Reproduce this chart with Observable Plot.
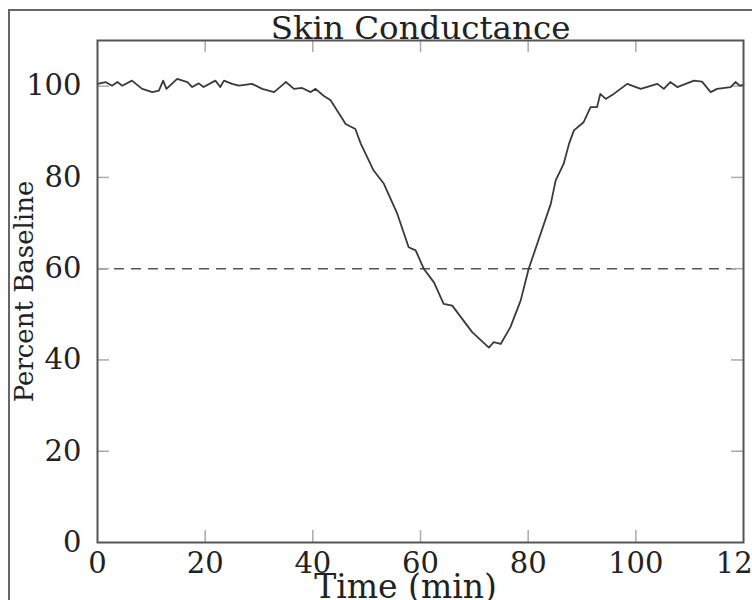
<!DOCTYPE html>
<html>
<head>
<meta charset="utf-8">
<script src="https://cdn.jsdelivr.net/npm/d3@7"></script>
<script src="https://cdn.jsdelivr.net/npm/@observablehq/plot@0.6"></script>
<style>
  html, body { margin: 0; padding: 0; background: #fff; overflow: hidden; }
  #wrap { position: relative; width: 752px; height: 600px; }
  #border { position: absolute; left: 8px; top: 9px; width: 800px; height: 700px;
            border-left: 2px solid #666; border-top: 2px solid #666; pointer-events: none; }
</style>
</head>
<body>
<div id="wrap"><div id="chart"></div><div id="border"></div></div>
<script>
const title = "Skin Conductance";
const xLabel = "Time (min)";
const yLabel = "Percent Baseline";
const xTicks = [0, 20, 40, 60, 80, 100, 120];
const yTicks = [0, 20, 40, 60, 80, 100];
const threshold = [60];

const time = [0, 1.5, 2.7, 3.7, 4.6, 6.4, 8.3, 10.2, 11.4, 12.2, 12.8, 14.8, 16.7, 17.6, 18.8, 19.7,
  21.9, 22.8, 23.5, 25, 26.3, 28.7, 30.6, 32.8, 34.6, 35.0, 36.5, 38, 39.6, 40.5, 42, 43.3,
  46.1, 47.9, 48.9, 51.3, 53.2, 55.7, 57.8, 59.1, 60.6, 62.5, 64.3, 65.9, 69.6, 72.7, 73.6,
  74.9, 76.7, 78.6, 80.1, 81.7, 84.2, 85.1, 86.6, 87.6, 88.5, 90.3, 91.6, 92.8, 93.4, 94.4,
  95.9, 98.4, 100.9, 104, 105.2, 106.4, 107.7, 110.8, 112.3, 113.9, 115.1, 117.6, 118.5, 119.3, 120];
const value = [100.5, 100.9, 100.1, 100.9, 100.1, 101.2, 99.4, 98.7, 99.0, 101.2, 99.4, 101.6, 100.9, 99.8, 100.6, 99.8,
  101.2, 99.8, 101.2, 100.5, 100.1, 100.5, 99.4, 98.7, 100.5, 100.9, 99.4, 99.6, 98.7, 99.4, 97.9, 96.9,
  91.7, 90.6, 87.4, 81.5, 78.6, 72.0, 64.7, 64.0, 60.0, 57.0, 52.3, 51.9, 46.1, 42.7, 43.9,
  43.5, 47.2, 53.0, 60.0, 65.5, 74.2, 79.3, 83.0, 87.4, 90.3, 92.1, 95.4, 95.4, 98.3, 97.2,
  98.3, 100.5, 99.4, 100.5, 99.4, 100.9, 99.8, 101.2, 101.0, 98.7, 99.4, 99.8, 100.9, 100.1, 100.3];

const data = time.map((t, i) => ({t, v: value[i]}));

const W = 752, H = 600, mL = 97, mR = 9, mT = 40, mB = 58;
const xDom = [0, 120], yDom = [0, 110];
const tickPx = 12;
const tx = tickPx * (xDom[1] - xDom[0]) / (W - mL - mR);
const ty = tickPx * (yDom[1] - yDom[0]) / (H - mT - mB);
const innerX = xTicks.filter(d => d > xDom[0] && d < xDom[1]);
const innerY = yTicks.filter(d => d > yDom[0] && d < yDom[1]);

const tickStyle = {stroke: "#aaa", strokeWidth: 1.5};

const chart = Plot.plot({
  width: W, height: H,
  marginLeft: mL, marginRight: mR, marginTop: mT, marginBottom: mB,
  style: {fontFamily: "'DejaVu Serif', serif", fontSize: "29px", color: "#222", background: "transparent", overflow: "visible"},
  x: {domain: xDom, label: null},
  y: {domain: yDom, label: null},
  marks: [
    Plot.ruleY(threshold, {stroke: "#555", strokeWidth: 1.6, strokeDasharray: "10,7"}),
    Plot.ruleX(innerX, {y1: yDom[0], y2: yDom[0] + ty, ...tickStyle}),
    Plot.ruleX(innerX, {y1: yDom[1] - ty, y2: yDom[1], ...tickStyle}),
    Plot.ruleY(innerY, {x1: xDom[0], x2: xDom[0] + tx, ...tickStyle}),
    Plot.ruleY(innerY, {x1: xDom[1] - tx, x2: xDom[1], ...tickStyle}),
    Plot.line(data, {x: "t", y: "v", stroke: "#3a3a3a", strokeWidth: 1.8}),
    Plot.frame({stroke: "#555", strokeWidth: 2}),
    Plot.axisX(xTicks, {tickSize: 0, tickPadding: 10, fontSize: 29, tickFormat: d => String(d)}),
    Plot.axisY(yTicks, {tickSize: 0, tickPadding: 16, fontSize: 29, tickFormat: d => String(d)}),
    Plot.text([title], {frameAnchor: "top", dy: -25, fontSize: 32.5, fill: "#222"}),
    Plot.text([xLabel], {frameAnchor: "bottom", dx: -15, dy: 55, fontSize: 33, fill: "#222"}),
    Plot.text([yLabel], {frameAnchor: "left", textAnchor: "middle", dx: -73, rotate: -90, fontSize: 26, fill: "#222"})
  ]
});
document.getElementById("chart").appendChild(chart);
</script>
</body>
</html>
